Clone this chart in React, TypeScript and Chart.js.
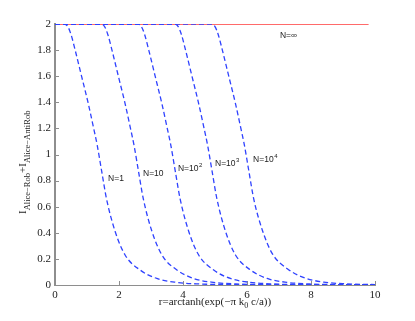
import React, { useEffect, useRef } from 'react';
import { Chart, registerables } from 'chart.js';
Chart.register(...registerables);

// ---- data ----
const xTickValues = [0, 2, 4, 6, 8, 10];
const yTickValues = [0, 0.2, 0.4, 0.6, 0.8, 1, 1.2, 1.4, 1.6, 1.8, 2];

const rN1 = [0, 0.3, 0.4, 0.5, 0.63, 0.83, 1.04, 1.2, 1.32, 1.46, 1.61, 1.88, 2.19, 2.66, 3.18, 3.8, 4.5, 5.5, 7, 10];
const yN1 = [2, 2, 1.98, 1.92, 1.8, 1.6, 1.39, 1.21, 1.07, 0.87, 0.66, 0.41, 0.23, 0.115, 0.05, 0.02, 0.008, 0.003, 0.001, 0];

const rN10 = [0, 1.45, 1.55, 1.65, 1.78, 1.98, 2.19, 2.35, 2.47, 2.61, 2.76, 3.03, 3.34, 3.81, 4.33, 4.95, 5.65, 6.65, 8.15, 10];
const yN10 = [2, 2, 1.98, 1.92, 1.8, 1.6, 1.39, 1.21, 1.07, 0.87, 0.66, 0.41, 0.23, 0.115, 0.05, 0.02, 0.008, 0.003, 0.001, 0];

const rN100 = [0, 2.6, 2.7, 2.8, 2.93, 3.13, 3.34, 3.5, 3.62, 3.76, 3.91, 4.18, 4.49, 4.96, 5.48, 6.1, 6.8, 7.8, 9.3, 10];
const yN100 = [2, 2, 1.98, 1.92, 1.8, 1.6, 1.39, 1.21, 1.07, 0.87, 0.66, 0.41, 0.23, 0.115, 0.05, 0.02, 0.008, 0.003, 0.001, 0];

const rN1000 = [0, 3.75, 3.85, 3.95, 4.08, 4.28, 4.49, 4.65, 4.77, 4.91, 5.06, 5.33, 5.64, 6.11, 6.63, 7.25, 7.95, 8.95, 10];
const yN1000 = [2, 2, 1.98, 1.92, 1.8, 1.6, 1.39, 1.21, 1.07, 0.87, 0.66, 0.41, 0.23, 0.115, 0.05, 0.02, 0.008, 0.003, 0.001];

const rN10000 = [0, 4.9, 5.0, 5.1, 5.23, 5.43, 5.64, 5.8, 5.92, 6.06, 6.21, 6.48, 6.79, 7.26, 7.78, 8.4, 9.1, 10];
const yN10000 = [2, 2, 1.98, 1.92, 1.8, 1.6, 1.39, 1.21, 1.07, 0.87, 0.66, 0.42, 0.24, 0.125, 0.056, 0.022, 0.009, 0.003];

const rInf = [0, 9.8];
const yInf = [2, 2];

const labelMain = ['N=1', 'N=10', 'N=10', 'N=10', 'N=10', 'N=\u221e'];
const labelSup = ['', '', '2', '3', '4', ''];
const labelR = [1.66, 2.75, 3.84, 5.0, 6.19, 7.03];
const labelY = [0.8, 0.835, 0.874, 0.91, 0.94, 1.89];

const BLUE = '#2f42ff';
const RED = '#ff6a6a';
const AXIS = '#8e8e8e';
const SERIF = '"Liberation Serif", "Times New Roman", serif';
const SANS = '"Liberation Sans", Arial, sans-serif';

const toPts = (xs: number[], ys: number[]) => xs.map((x, i) => ({ x, y: ys[i] }));

const overlay = {
  id: 'overlay',
  beforeDatasetsDraw(chart: any) {
    const { ctx, chartArea, scales } = chart;
    const xs = scales.x, ys = scales.y;
    ctx.save();
    ctx.strokeStyle = AXIS;
    ctx.lineWidth = 1;
    ctx.beginPath();
    xTickValues.forEach((v) => {
      const px = Math.round(xs.getPixelForValue(v)) + 0.5;
      ctx.moveTo(px, chartArea.bottom);
      ctx.lineTo(px, chartArea.bottom - 4);
    });
    yTickValues.forEach((v) => {
      const py = Math.round(ys.getPixelForValue(v)) + 0.5;
      ctx.moveTo(chartArea.left, py);
      ctx.lineTo(chartArea.left + 4, py);
    });
    ctx.stroke();
    ctx.restore();
  },
  afterDraw(chart: any) {
    const { ctx, scales } = chart;
    const xs = scales.x, ys = scales.y;
    ctx.save();
    ctx.fillStyle = '#222';
    ctx.textBaseline = 'alphabetic';
    ctx.textAlign = 'left';
    // curve labels
    labelMain.forEach((t, i) => {
      const px = xs.getPixelForValue(labelR[i]);
      const py = ys.getPixelForValue(labelY[i]);
      ctx.font = `8.5px ${SANS}`;
      ctx.fillText(t, px, py);
      if (labelSup[i]) {
        const w = ctx.measureText(t).width;
        ctx.font = `6px ${SANS}`;
        ctx.fillText(labelSup[i], px + w + 0.5, py - 4);
      }
    });
    // x title
    const xParts: [string, number, number][] = [
      ['r=arctanh(exp(\u2212\u03c0 k', 11, 0],
      ['0', 8, 3],
      [' c/a))', 11, 0],
    ];
    let total = 0;
    xParts.forEach(([t, s]) => { ctx.font = `${s}px ${SERIF}`; total += ctx.measureText(t).width; });
    const cx = (chart.chartArea.left + chart.chartArea.right) / 2;
    let x0 = cx - total / 2;
    xParts.forEach(([t, s, dy]) => {
      ctx.font = `${s}px ${SERIF}`;
      ctx.fillText(t, x0, 305 + dy);
      x0 += ctx.measureText(t).width;
    });
    // y title (rotated)
    const yParts: [string, number, number][] = [
      ['I', 11, 0],
      ['Alice\u2212Rob', 8.5, 4],
      ['+I', 11, 0],
      ['Alice\u2212AntiRob', 8.5, 4],
    ];
    ctx.translate(26, 214);
    ctx.rotate(-Math.PI / 2);
    let y0 = 0;
    yParts.forEach(([t, s, dy]) => {
      ctx.font = `${s}px ${SERIF}`;
      ctx.fillText(t, y0, dy);
      y0 += ctx.measureText(t).width;
    });
    ctx.restore();
  },
};

export default function App() {
  const ref = useRef<HTMLCanvasElement | null>(null);
  useEffect(() => {
    if (!ref.current) return;
    const dashed = (xs: number[], ys: number[]) => ({
      data: toPts(xs, ys),
      borderColor: BLUE,
      borderWidth: 1.3,
      borderDash: [5, 3],
      pointRadius: 0,
      fill: false,
      cubicInterpolationMode: 'monotone' as const,
      order: 1,
    });
    const chart = new Chart(ref.current, {
      type: 'line',
      data: {
        datasets: [
          dashed(rN1, yN1),
          dashed(rN10, yN10),
          dashed(rN100, yN100),
          dashed(rN1000, yN1000),
          dashed(rN10000, yN10000),
          {
            data: toPts(rInf, yInf),
            borderColor: RED,
            borderWidth: 2,
            pointRadius: 0,
            fill: false,
            order: 5,
          },
        ],
      },
      options: {
        animation: false,
        responsive: false,
        events: [],
        layout: { padding: { top: 24, right: 40, left: 0, bottom: 0 } },
        plugins: { legend: { display: false }, tooltip: { enabled: false } },
        scales: {
          x: {
            type: 'linear',
            min: 0,
            max: 10,
            grid: { display: false, drawTicks: false },
            border: { display: true, color: AXIS, width: 1 },
            ticks: {
              stepSize: 2,
              padding: 4,
              color: '#222',
              font: { family: SERIF, size: 11 },
              callback: (v: any) => String(v),
            },
            afterFit: (s: any) => { s.height = 36; },
          },
          y: {
            type: 'linear',
            min: 0,
            max: 2,
            grid: { display: false, drawTicks: false },
            border: { display: true, color: AXIS, width: 2 },
            ticks: {
              stepSize: 0.2,
              padding: 4,
              color: '#222',
              font: { family: SERIF, size: 11 },
              callback: (v: any) => String(Math.round(Number(v) * 10) / 10),
            },
            afterFit: (s: any) => { s.width = 55; },
          },
        },
      },
      plugins: [overlay],
    });
    return () => chart.destroy();
  }, []);
  return (
    <div style={{ position: 'absolute', left: 0, top: 0, width: 415, height: 321, background: '#fff' }}>
      <canvas ref={ref} width={415} height={321} style={{ display: 'block' }} />
    </div>
  );
}
